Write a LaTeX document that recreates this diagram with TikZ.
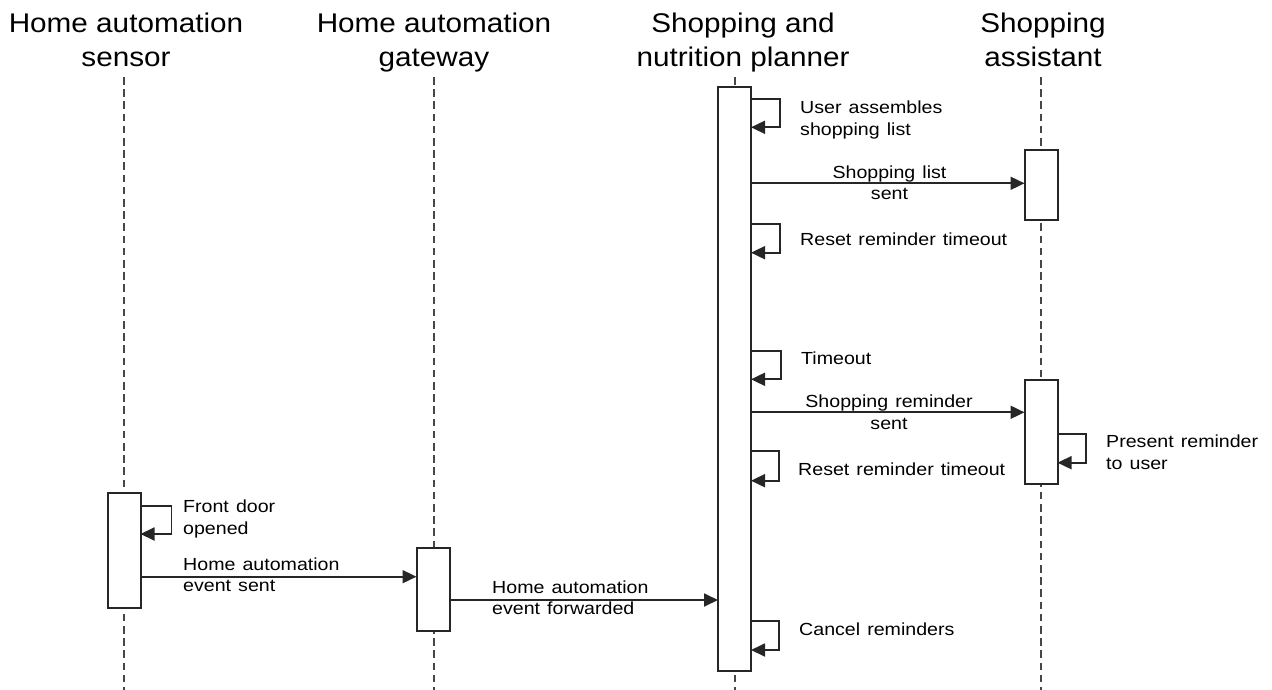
\documentclass[tikz,border=0pt]{standalone}
\usepackage{fontspec}
\setmainfont{Liberation Sans}
\newfontfamily\hdrfont[FakeStretch=1.1]{Liberation Sans}
\newfontfamily\lblfont[FakeStretch=1.12,WordSpace=1.3]{Liberation Sans}
\usetikzlibrary{arrows.meta}

\begin{document}
\begin{tikzpicture}[x=1pt,y=-1pt,
  lifeline/.style={line width=2pt, dash pattern=on 7.6pt off 4.6pt, draw=black!72},
  actbox/.style={draw=black!85, line width=2pt, fill=white, minimum width=33pt,
                 inner sep=0pt, outer sep=0pt, anchor=north},
  msg/.style={draw=black!85, line width=1.8pt, -{Triangle[length=14pt,width=13pt]}},
  hdr/.style={font=\hdrfont\fontsize{27}{35}\selectfont, anchor=base, inner sep=0pt},
  lbl/.style={font=\lblfont\fontsize{17.5}{22}\selectfont, anchor=base west, inner sep=0pt},
  lblc/.style={lbl, anchor=base},
]
\useasboundingbox (0,0) rectangle (1272,690);

% participant headings
\node[hdr] (hs1) at (126,32.5) {Home automation};
\node[hdr] (hs2) at (126,67)   {sensor};
\node[hdr] (hg1) at (434,32.5) {Home automation};
\node[hdr] (hg2) at (434,67)   {gateway};
\node[hdr] (hp1) at (743,32.5) {Shopping and};
\node[hdr] (hp2) at (743,67)   {nutrition planner};
\node[hdr] (ha1) at (1043,32.5) {Shopping};
\node[hdr] (ha2) at (1043,67)   {assistant};

% lifelines
\coordinate (sTop) at (124,77);   \coordinate (sBot) at (124,690);
\coordinate (gTop) at (433.5,77); \coordinate (gBot) at (433.5,690);
\coordinate (pTop) at (734.5,77); \coordinate (pBot) at (734.5,690);
\coordinate (aTop) at (1041,77);  \coordinate (aBot) at (1041,690);
\draw[lifeline] (sTop) -- (sBot);
\draw[lifeline] (gTop) -- (gBot);
\draw[lifeline] (pTop) -- (pBot);
\draw[lifeline] (aTop) -- (aBot);

% activation bars
\node[actbox, minimum height=584pt]   (pb)  at (734.5,87) {};
\node[actbox, minimum height=70pt]    (ab1) at (1041,150) {};
\node[actbox, minimum height=104pt]   (ab2) at (1041,380) {};
\node[actbox, minimum height=115.5pt] (sb)  at (124,492.5) {};
\node[actbox, minimum height=83pt]    (gb)  at (433,548) {};

% message rows
\coordinate (m1) at (0,183.3);
\coordinate (m2) at (0,412.3);
\coordinate (m3) at (0,576.7);
\coordinate (m4) at (0,600);

% self-message rows
\coordinate (u1) at (0,99.3);  \coordinate (d1) at (0,127.3);
\coordinate (u2) at (0,224);   \coordinate (d2) at (0,252.7);
\coordinate (u3) at (0,350.7); \coordinate (d3) at (0,379.3);
\coordinate (u4) at (0,451);   \coordinate (d4) at (0,480.7);
\coordinate (u5) at (0,620.7); \coordinate (d5) at (0,650);
\coordinate (u6) at (0,434);   \coordinate (d6) at (0,462.7);
\coordinate (u7) at (0,505.7); \coordinate (d7) at (0,534);

% self messages on the planner
\draw[msg] (pb.east |- u1) -- (780,99.3)  -- (780,127.3) -- (pb.east |- d1);
\draw[msg] (pb.east |- u2) -- (780,224)   -- (780,252.7) -- (pb.east |- d2);
\draw[msg] (pb.east |- u3) -- (781,350.7) -- (781,379.3) -- (pb.east |- d3);
\draw[msg] (pb.east |- u4) -- (779,451)   -- (779,480.7) -- (pb.east |- d4);
\draw[msg] (pb.east |- u5) -- (779,620.7) -- (779,650)   -- (pb.east |- d5);
% self message on the assistant
\draw[msg] (ab2.east |- u6) -- (1086,434) -- (1086,462.7) -- (ab2.east |- d6);
% self message on the sensor
\draw[msg] (sb.east |- u7) -- (171.5,505.7) -- (171.5,534) -- (sb.east |- d7);

% messages between participants
\draw[msg] (pb.east |- m1) -- (ab1.west |- m1);
\draw[msg] (pb.east |- m2) -- (ab2.west |- m2);
\draw[msg] (sb.east |- m3) -- (gb.west |- m3);
\draw[msg] (gb.east |- m4) -- (pb.west |- m4);

% labels
\node[lbl] (l1a) at (800,113.3) {User assembles};
\node[lbl] (l1b) at (800,135.7) {shopping list};
\node[lblc] (l2a) at (889.5,178.3) {Shopping list};
\node[lblc] (l2b) at (889.5,200)   {sent};
\node[lbl] (l3) at (800,245) {Reset reminder timeout};
\node[lbl] (l4) at (801,364.3) {Timeout};
\node[lblc] (l5a) at (889,407) {Shopping reminder};
\node[lblc] (l5b) at (889,429) {sent};
\node[lbl] (l6) at (798,475.5) {Reset reminder timeout};
\node[lbl] (l7a) at (1106,447.3) {Present reminder};
\node[lbl] (l7b) at (1106,469)   {to user};
\node[lbl] (l8a) at (183,512.3) {Front door};
\node[lbl] (l8b) at (183,534)   {opened};
\node[lbl] (l9a) at (183,570.7) {Home automation};
\node[lbl] (l9b) at (183,591.7) {event sent};
\node[lbl] (l10a) at (492,593.3) {Home automation};
\node[lbl] (l10b) at (492,614.5) {event forwarded};
\node[lbl] (l11) at (799,635) {Cancel reminders};
\end{tikzpicture}
\end{document}
